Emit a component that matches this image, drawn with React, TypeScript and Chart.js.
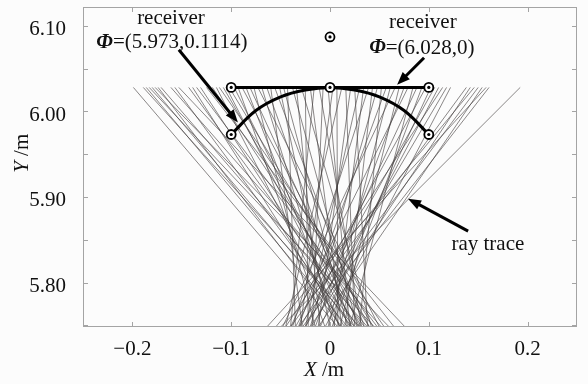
import React, { useEffect, useRef } from "react";
import { Chart, registerables } from "chart.js";

Chart.register(...registerables);

const X_MIN = -0.25;
const X_MAX = 0.25;
const Y_MIN = 5.748;
const Y_MAX = 6.122;
const X_TICKS = [-0.2, -0.1, 0, 0.1, 0.2];
const Y_TICKS = [5.75, 5.8, 5.85, 5.9, 5.95, 6.0, 6.05, 6.1];

// receiver plane (flat) and curved receiver
const FLAT_X = [-0.1, 0, 0.1];
const FLAT_Y = [6.028, 6.028, 6.028];
const ARC_X = [-0.1, -0.075, -0.05, -0.025, 0, 0.025, 0.05, 0.075, 0.1];
const ARC_Y = [5.973, 6.001, 6.017, 6.025, 6.028, 6.025, 6.017, 6.001, 5.973];
const MARK_X = [-0.1, 0, 0.1, -0.1, 0.1, 0];
const MARK_Y = [6.028, 6.028, 6.028, 5.973, 5.973, 6.087];

// rays: start x at the receiver plane, end x at the bottom of the plot
const RAY_TOP = 6.028;
const RAY_BOTTOM = 5.748;
const RAY_START_X = [
  -0.199, -0.189, -0.186, -0.183, -0.18, -0.177, -0.174, -0.171, -0.161, -0.157, -0.153,
  -0.143, -0.139, -0.135, -0.131, -0.125, -0.119, -0.115, -0.112, -0.108, -0.105, -0.102,
  -0.097, -0.093, -0.089, -0.085, -0.081, -0.077, -0.073, -0.069, -0.064, -0.06, -0.056,
  -0.051, -0.047, -0.043, -0.038, -0.034, -0.029, -0.025, -0.02, -0.016, -0.011, -0.007,
  -0.002, 0.003, 0.007, 0.012, 0.016, 0.021, 0.025, 0.03, 0.034, 0.039, 0.043, 0.048,
  0.052, 0.057, 0.061, 0.066, 0.07, 0.075, 0.079, 0.084, 0.088, 0.093, 0.097,
  0.102, 0.106, 0.11, 0.114, 0.118, 0.122, 0.138, 0.142, 0.146, 0.15, 0.154, 0.158, 0.161, 0.1925,
];
const RAY_END_X = [
  0.008, 0.03, 0.018, 0.045, 0.025, 0.06, 0.012, 0.038, 0.052, 0.022, 0.076,
  0.035, 0.015, 0.048, 0.028, 0.065, 0.04, 0.01, 0.055, 0.032, 0.02, 0.044,
  0.025, -0.005, 0.04, 0.01, 0.03, -0.015, 0.05, 0.005, 0.022, -0.028, 0.035,
  0.0, 0.018, -0.035, 0.028, -0.01, 0.042, -0.022, 0.012, -0.04, 0.032, -0.018,
  0.02, -0.03, 0.008, -0.045, 0.025, -0.012, 0.038, -0.025, 0.004, -0.038, 0.015, -0.02,
  0.03, -0.032, -0.002, -0.048, 0.01, -0.015, -0.04, 0.02, -0.025, 0.002, -0.035,
  -0.01, -0.03, -0.018, -0.045, -0.025, -0.005, -0.04, -0.02, -0.055, -0.032, -0.012, -0.064, -0.028, -0.05,
];

const FONT = '"Liberation Serif", "Times New Roman", serif';
const FS = 21;

type Part = [string, string];

function drawMixed(ctx: CanvasRenderingContext2D, parts: Part[], cx: number, cy: number) {
  let total = 0;
  const widths: number[] = [];
  for (const [t, f] of parts) {
    ctx.font = f;
    const w = ctx.measureText(t).width;
    widths.push(w);
    total += w;
  }
  let x = cx - total / 2;
  ctx.textBaseline = "middle";
  ctx.textAlign = "left";
  parts.forEach(([t, f], i) => {
    ctx.font = f;
    ctx.fillText(t, x, cy);
    x += widths[i];
  });
}

function drawArrow(ctx: CanvasRenderingContext2D, x0: number, y0: number, x1: number, y1: number) {
  const ang = Math.atan2(y1 - y0, x1 - x0);
  const len = 13;
  const half = 5;
  const bx = x1 - len * Math.cos(ang);
  const by = y1 - len * Math.sin(ang);
  ctx.strokeStyle = "#000";
  ctx.fillStyle = "#000";
  ctx.lineWidth = 3;
  ctx.lineCap = "butt";
  ctx.beginPath();
  ctx.moveTo(x0, y0);
  ctx.lineTo(bx + 2 * Math.cos(ang), by + 2 * Math.sin(ang));
  ctx.stroke();
  ctx.beginPath();
  ctx.moveTo(x1, y1);
  ctx.lineTo(bx + half * Math.sin(ang), by - half * Math.cos(ang));
  ctx.lineTo(bx - half * Math.sin(ang), by + half * Math.cos(ang));
  ctx.closePath();
  ctx.fill();
}

const overlayPlugin = {
  id: "overlay",
  afterDatasetsDraw(chart: any) {
    const { ctx, chartArea, scales } = chart;
    const xs = scales.x;
    const ys = scales.y;
    const px = (v: number) => xs.getPixelForValue(v);
    const py = (v: number) => ys.getPixelForValue(v);
    ctx.save();
    // frame
    ctx.strokeStyle = "#a4a4a4";
    ctx.lineWidth = 1;
    ctx.strokeRect(chartArea.left + 0.5, chartArea.top + 0.5, chartArea.right - chartArea.left - 1, chartArea.bottom - chartArea.top - 1);
    const tl = 5;
    ctx.beginPath();
    for (const v of X_TICKS) {
      const x = Math.round(px(v)) + 0.5;
      ctx.moveTo(x, chartArea.bottom);
      ctx.lineTo(x, chartArea.bottom - tl);
      ctx.moveTo(x, chartArea.top);
      ctx.lineTo(x, chartArea.top + tl);
    }
    for (const v of Y_TICKS) {
      const y = Math.round(py(v)) + 0.5;
      ctx.moveTo(chartArea.left, y);
      ctx.lineTo(chartArea.left + tl, y);
      ctx.moveTo(chartArea.right, y);
      ctx.lineTo(chartArea.right - tl, y);
    }
    ctx.stroke();

    // annotations
    ctx.fillStyle = "#111";
    const reg = `${FS}px ${FONT}`;
    const bi = `bold italic ${FS}px ${FONT}`;
    const it = `italic ${FS}px ${FONT}`;
    drawMixed(ctx, [["receiver", reg]], px(-0.161), py(6.109));
    drawMixed(ctx, [["Φ", bi], ["=(5.973,0.1114)", reg]], px(-0.16), py(6.08));
    drawMixed(ctx, [["receiver", reg]], px(0.094), py(6.104));
    drawMixed(ctx, [["Φ", bi], ["=(6.028,0)", reg]], px(0.093), py(6.074));
    drawMixed(ctx, [["ray trace", reg]], px(0.1598), py(5.845));

    drawArrow(ctx, px(-0.153), py(6.072), px(-0.0932), py(5.987));
    drawArrow(ctx, px(0.0952), py(6.0627), px(0.0679), py(6.031));
    drawArrow(ctx, px(0.1398), py(5.86), px(0.079), py(5.898));

    // axis titles
    ctx.fillStyle = "#111";
    drawMixed(ctx, [["X", it], [" /m", reg]], px(-0.006), chartArea.bottom + 43);
    ctx.translate(chartArea.left - 61, py(5.951));
    ctx.rotate(-Math.PI / 2);
    drawMixed(ctx, [["Y", it], [" /m", reg]], 0, 0);
    ctx.restore();
  },
};

const bgPlugin = {
  id: "bg",
  beforeDraw(chart: any) {
    const { ctx, width, height } = chart;
    ctx.save();
    ctx.fillStyle = "#fcfcfc";
    ctx.fillRect(0, 0, width, height);
    ctx.restore();
  },
};

export default function App() {
  const ref = useRef<HTMLCanvasElement | null>(null);
  useEffect(() => {
    if (!ref.current) return;
    const rayDatasets = RAY_START_X.map((xs, i) => ({
      data: [
        { x: xs, y: RAY_TOP },
        { x: RAY_END_X[i], y: RAY_BOTTOM },
      ],
      showLine: true,
      borderColor: "rgba(65,60,60,0.82)",
      borderWidth: 0.75,
      pointRadius: 0,
      order: 10,
    }));
    const chart = new Chart(ref.current, {
      type: "scatter",
      data: {
        datasets: [
          ...rayDatasets,
          {
            data: FLAT_X.map((x, i) => ({ x, y: FLAT_Y[i] })),
            showLine: true,
            borderColor: "#000",
            borderWidth: 3,
            pointRadius: 0,
            order: 3,
          },
          {
            data: ARC_X.map((x, i) => ({ x, y: ARC_Y[i] })),
            showLine: true,
            borderColor: "#000",
            borderWidth: 3,
            pointRadius: 0,
            tension: 0.4,
            order: 2,
          },
          {
            data: MARK_X.map((x, i) => ({ x, y: MARK_Y[i] })),
            showLine: false,
            pointRadius: 4.5,
            pointBackgroundColor: "#fff",
            pointBorderColor: "#000",
            pointBorderWidth: 1.8,
            order: 1,
          },
          {
            data: MARK_X.map((x, i) => ({ x, y: MARK_Y[i] })),
            showLine: false,
            pointRadius: 1.6,
            pointBackgroundColor: "#000",
            pointBorderColor: "#000",
            pointBorderWidth: 0,
            order: 0,
          },
        ] as any,
      },
      options: {
        animation: false,
        responsive: false,
        events: [],
        layout: { padding: { top: 7, right: 11, left: 0, bottom: 0 } },
        plugins: { legend: { display: false }, tooltip: { enabled: false } },
        scales: {
          x: {
            type: "linear",
            min: X_MIN,
            max: X_MAX,
            grid: { display: false },
            border: { display: false },
            afterBuildTicks: (s: any) => {
              s.ticks = X_TICKS.map((v) => ({ value: v }));
            },
            afterFit: (s: any) => {
              s.height = 57;
              s.paddingLeft = 0;
              s.paddingRight = 0;
            },
            ticks: {
              padding: 2,
              color: "#111",
              font: { family: FONT, size: FS },
              maxRotation: 0,
              callback: (v: any) => {
                const n = Number(v);
                if (Math.abs(n) < 1e-9) return "0";
                return n < 0 ? "\u2212" + Math.abs(n).toFixed(1) : n.toFixed(1);
              },
            },
          },
          y: {
            type: "linear",
            min: Y_MIN,
            max: Y_MAX,
            grid: { display: false },
            border: { display: false },
            afterBuildTicks: (s: any) => {
              s.ticks = Y_TICKS.map((v) => ({ value: v }));
            },
            afterFit: (s: any) => {
              s.width = 83;
              s.paddingTop = 0;
              s.paddingBottom = 0;
            },
            ticks: {
              padding: 9,
              labelOffset: 4,
              color: "#111",
              font: { family: FONT, size: FS },
              callback: (v: any) => {
                const n = Number(v);
                const r = Math.round(n * 10) / 10;
                return Math.abs(n - r) < 1e-6 ? n.toFixed(2) : "";
              },
            },
          },
        },
      },
      plugins: [bgPlugin, overlayPlugin],
    } as any);
    return () => chart.destroy();
  }, []);
  return (
    <div style={{ position: "fixed", left: 0, top: 0, width: 588, height: 384 }}>
      <canvas ref={ref} width={588} height={384} style={{ display: "block" }} />
    </div>
  );
}
